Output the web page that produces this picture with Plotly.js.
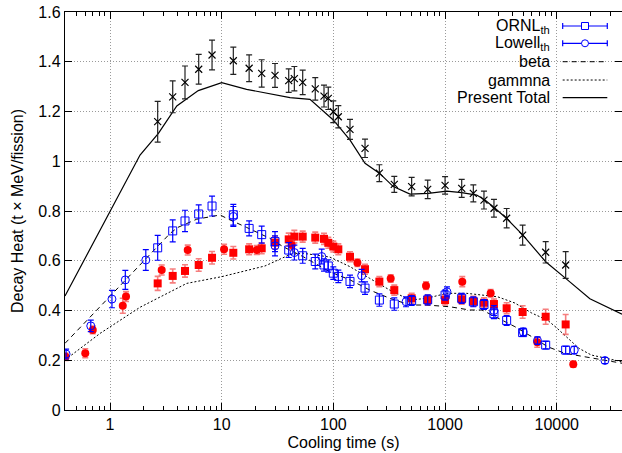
<!DOCTYPE html>
<html><head><meta charset="utf-8">
<script src="https://cdn.plot.ly/plotly-3.0.1.min.js"></script>
<style>html,body{margin:0;padding:0;background:#fff;} #chart{width:622px;height:453px;}</style>
</head><body><div id="chart"></div>
<script>
// ---- data ----
const totalExpX = [2.67,3.64,4.69,6.22,8.19,12.7,17.6,22.8,30.0,39.8,44.7,53.1,68.8,82.4,90.0,99.8,110.7,140.8,192,258,351,502,699,1000,1409,1791,2230,2740,3560,4950,7960,12020];
const totalExpY = [1.159,1.259,1.317,1.370,1.427,1.404,1.374,1.353,1.345,1.324,1.332,1.317,1.291,1.262,1.253,1.199,1.179,1.128,1.052,0.952,0.907,0.898,0.887,0.903,0.891,0.871,0.844,0.811,0.771,0.703,0.634,0.583];
const totalExpErr = [0.082,0.064,0.066,0.06,0.06,0.055,0.054,0.055,0.048,0.047,0.049,0.049,0.045,0.044,0.045,0.044,0.045,0.04,0.037,0.034,0.032,0.037,0.037,0.035,0.036,0.034,0.036,0.036,0.039,0.04,0.043,0.054];

const redSqX = [2.67,3.64,4.69,6.22,8.19,12.7,17.6,22.8,30.0,39.8,44.7,53.1,68.8,82.4,90.0,99.8,110.7,140.8,192,258,351,502,699,1000,1409,1791,2230,2740,3560,4950,7960,12020];
const redSqY = [0.509,0.539,0.559,0.583,0.612,0.632,0.646,0.650,0.673,0.686,0.697,0.697,0.693,0.688,0.672,0.657,0.646,0.616,0.566,0.516,0.482,0.449,0.442,0.442,0.445,0.437,0.431,0.426,0.409,0.394,0.375,0.344];
const redSqErr = [0.028,0.028,0.025,0.025,0.025,0.025,0.022,0.022,0.025,0.025,0.025,0.022,0.022,0.022,0.022,0.022,0.022,0.02,0.02,0.02,0.02,0.02,0.02,0.02,0.02,0.02,0.02,0.02,0.022,0.025,0.03,0.04];

const redCiX = [0.40,0.60,0.70,1.30,1.39,2.90,4.96,10.5,20.6,42.3,164,326,675,1426,2560,6690,14060];
const redCiY = [0.214,0.228,0.322,0.419,0.456,0.563,0.643,0.646,0.643,0.663,0.592,0.529,0.500,0.516,0.469,0.272,0.184];
const redCiErr = [0.015,0.018,0.015,0.03,0.02,0.02,0.02,0.02,0.018,0.02,0.015,0.015,0.015,0.02,0.015,0.02,0.012];

const ornlX = [2.67,3.64,4.69,6.22,8.19,12.7,17.6,22.8,30.0,39.8,53.1,68.8,82.4,90.0,99.8,110.7,140.8,192,258,351,502,699,1000,1409,1791,2230,2740,3560,4950,7960,12020];
const ornlY = [0.652,0.720,0.760,0.788,0.820,0.785,0.730,0.705,0.677,0.643,0.620,0.597,0.583,0.579,0.550,0.537,0.517,0.490,0.442,0.426,0.440,0.443,0.462,0.449,0.435,0.424,0.387,0.360,0.311,0.261,0.241];
const ornlErr = [0.05,0.044,0.043,0.037,0.04,0.042,0.03,0.034,0.04,0.03,0.03,0.03,0.025,0.025,0.025,0.025,0.025,0.025,0.025,0.025,0.02,0.02,0.02,0.02,0.02,0.02,0.02,0.02,0.015,0.015,0.015];

const lowellX = [0.404,0.672,1.04,1.37,2.09,12.7,30.0,44.7,78.6,179,447,1040,2740,5010,6720,14350,27000];
const lowellY = [0.225,0.338,0.446,0.523,0.603,0.778,0.660,0.633,0.617,0.540,0.435,0.475,0.400,0.314,0.279,0.241,0.199];
const lowellErr = [0.02,0.023,0.035,0.038,0.042,0.04,0.04,0.03,0.03,0.025,0.02,0.02,0.02,0.015,0.015,0.015,0.012];

const presentX = [0.395,1.856,2.71,3.96,6.17,10.0,16.7,25.3,40.9,61.7,99.8,141,192,258,344,485,708,1033,1409,1920,2275,2800,3560,4950,7960,12020,19800,38400];
const presentY = [0.458,1.025,1.112,1.222,1.284,1.316,1.289,1.273,1.256,1.249,1.166,1.085,0.992,0.952,0.898,0.868,0.871,0.880,0.874,0.864,0.844,0.811,0.770,0.704,0.596,0.529,0.447,0.385];

const betaX = [0.395,3.45,4.04,5.97,9.67,11.5,16.7,21.3,27.0,35.6,53.8,92.6,141,212,320,485,685,1105,1660,2140,2980,4220,5960,8330,11800,17900,38400];
const betaY = [0.268,0.710,0.734,0.767,0.784,0.767,0.734,0.713,0.690,0.656,0.616,0.556,0.523,0.482,0.449,0.422,0.422,0.415,0.402,0.402,0.369,0.335,0.295,0.254,0.228,0.214,0.188];

const gammaX = [0.395,0.814,1.856,4.86,10.0,24.4,40.9,53.7,92.6,141,212,320,485,685,1033,1560,2960,4220,5960,8330,9990,11800,15800,20400,38400];
const gammaY = [0.201,0.308,0.413,0.509,0.536,0.579,0.625,0.630,0.615,0.576,0.529,0.482,0.442,0.449,0.469,0.469,0.455,0.430,0.390,0.360,0.330,0.300,0.248,0.221,0.194];

const xTickVals = [1,10,100,1000,10000];
const xTickText = ['1','10','100','1000','10000'];
const yTickVals = [0,0.2,0.4,0.6,0.8,1,1.2,1.4,1.6];
const yTickText = ['0','0.2','0.4','0.6','0.8','1','1.2','1.4','1.6'];

const legendNames = ['ORNL<sub>th</sub>','Lowell<sub>th</sub>','beta','gammna','Present Total'];

// ---- build ----
const BLUE = '#0000ff', RED = '#ff0000', REDBAR = 'rgba(240,40,40,0.6)';
const minorVals = [];
for (let d = 0.1; d <= 10000; d *= 10) for (let k = 2; k <= 9; k++) minorVals.push(+(d*k).toPrecision(3));

const traces = [
  {x: gammaX, y: gammaY, mode: 'lines', line: {color: '#000', width: 1, dash: '2px,2px'}},
  {x: betaX, y: betaY, mode: 'lines', line: {color: '#000', width: 1, dash: '5px,4px'}},
  {x: redSqX, y: redSqY, mode: 'markers', marker: {symbol: 'square', size: 8, color: RED},
   error_y: {type: 'data', array: redSqErr, color: REDBAR, thickness: 1.6, width: 3}},
  {x: redCiX, y: redCiY, mode: 'markers', marker: {symbol: 'circle', size: 8, color: RED},
   error_y: {type: 'data', array: redCiErr, color: REDBAR, thickness: 1.6, width: 3}},
  {x: ornlX, y: ornlY, mode: 'markers', marker: {symbol: 'square-open', size: 8, color: BLUE, line: {width: 1}},
   error_y: {type: 'data', array: ornlErr, color: BLUE, thickness: 1.2, width: 3}},
  {x: lowellX, y: lowellY, mode: 'markers', marker: {symbol: 'circle-open', size: 8, color: BLUE, line: {width: 1}},
   error_y: {type: 'data', array: lowellErr, color: BLUE, thickness: 1.2, width: 3}},
  {x: presentX, y: presentY, mode: 'lines', line: {color: '#000', width: 1.2}},
  {x: totalExpX, y: totalExpY, mode: 'markers', marker: {symbol: 'x-thin-open', size: 7, color: '#000', line: {width: 1.2, color: '#000'}},
   error_y: {type: 'data', array: totalExpErr, color: '#222', thickness: 1.2, width: 3}}
];

// custom gnuplot-style legend (text right-aligned, sample on the right)
const legY = [0.9648, 0.9214, 0.8751, 0.8291, 0.7847];
const txtX = 0.8743, s0 = 0.8935, s1 = 0.9736, sm = 0.9336;
const annotations = legendNames.map((n, i) => ({
  xref: 'paper', yref: 'paper', x: txtX, y: legY[i], xanchor: 'right', yanchor: 'middle',
  text: n, showarrow: false, font: {size: 16, color: '#000'}
}));
const shapes = [
  {type: 'rect', layer: 'between', xref: 'paper', yref: 'paper', x0: 0.652, x1: 1, y0: 0.764, y1: 1, fillcolor: '#fff', line: {width: 0}}
];
[0, 1].forEach(i => {
  shapes.push({type: 'line', xref: 'paper', yref: 'paper', x0: s0, x1: s1, y0: legY[i], y1: legY[i], line: {color: BLUE, width: 1.2}});
  [s0, s1].forEach(xx => shapes.push({type: 'line', xref: 'paper', yref: 'paper', xsizemode: 'scaled', ysizemode: 'pixel', yanchor: legY[i], x0: xx, x1: xx, y0: -3, y1: 3, line: {color: BLUE, width: 1.2}}));
  shapes.push({type: i === 0 ? 'rect' : 'circle', xref: 'paper', yref: 'paper', xsizemode: 'pixel', ysizemode: 'pixel', xanchor: sm, yanchor: legY[i], x0: -3.5, x1: 3.5, y0: -3.5, y1: 3.5, fillcolor: '#fff', line: {color: BLUE, width: 1}});
});
shapes.push({type: 'line', xref: 'paper', yref: 'paper', x0: s0, x1: s1, y0: legY[2], y1: legY[2], line: {color: '#000', width: 1, dash: '5px,4px'}});
shapes.push({type: 'line', xref: 'paper', yref: 'paper', x0: s0, x1: s1, y0: legY[3], y1: legY[3], line: {color: '#000', width: 1, dash: '2px,2px'}});
shapes.push({type: 'line', xref: 'paper', yref: 'paper', x0: s0, x1: s1, y0: legY[4], y1: legY[4], line: {color: '#000', width: 1.2}});

const gridStyle = {showgrid: true, gridcolor: '#9a9a9a', gridwidth: 1, griddash: '1px,2px'};
const layout = {
  width: 622, height: 453,
  margin: {l: 65, r: 0, t: 12, b: 43},
  paper_bgcolor: '#fff', plot_bgcolor: '#fff',
  showlegend: false,
  font: {family: '"Liberation Sans", Arial, Helvetica, sans-serif', size: 16, color: '#000'},
  xaxis: Object.assign({
    type: 'log', range: [Math.log10(0.395), Math.log10(38400)],
    tickmode: 'array', tickvals: xTickVals, ticktext: xTickText,
    ticks: 'inside', ticklen: 7, tickwidth: 1, tickcolor: '#000',
    showline: true, linecolor: '#000', linewidth: 1.2, mirror: 'allticks', zeroline: false,
    minor: {tickmode: 'array', tickvals: minorVals, ticks: 'inside', ticklen: 4, tickcolor: '#000', showgrid: false},
    title: {text: 'Cooling time (s)', standoff: 4, font: {size: 16}},
    automargin: false
  }, gridStyle),
  yaxis: Object.assign({
    range: [0, 1.6], tickmode: 'array', tickvals: yTickVals, ticktext: yTickText,
    ticks: 'inside', ticklen: 7, tickwidth: 1, tickcolor: '#000',
    showline: true, linecolor: '#000', linewidth: 1.2, mirror: 'ticks', zeroline: false,
    title: {text: 'Decay Heat (t × MeV/fission)', standoff: 10, font: {size: 16}},
    automargin: false
  }, gridStyle),
  annotations: annotations,
  shapes: shapes
};
Plotly.newPlot('chart', traces, layout, {displayModeBar: false, staticPlot: true});
</script>
</body></html>
